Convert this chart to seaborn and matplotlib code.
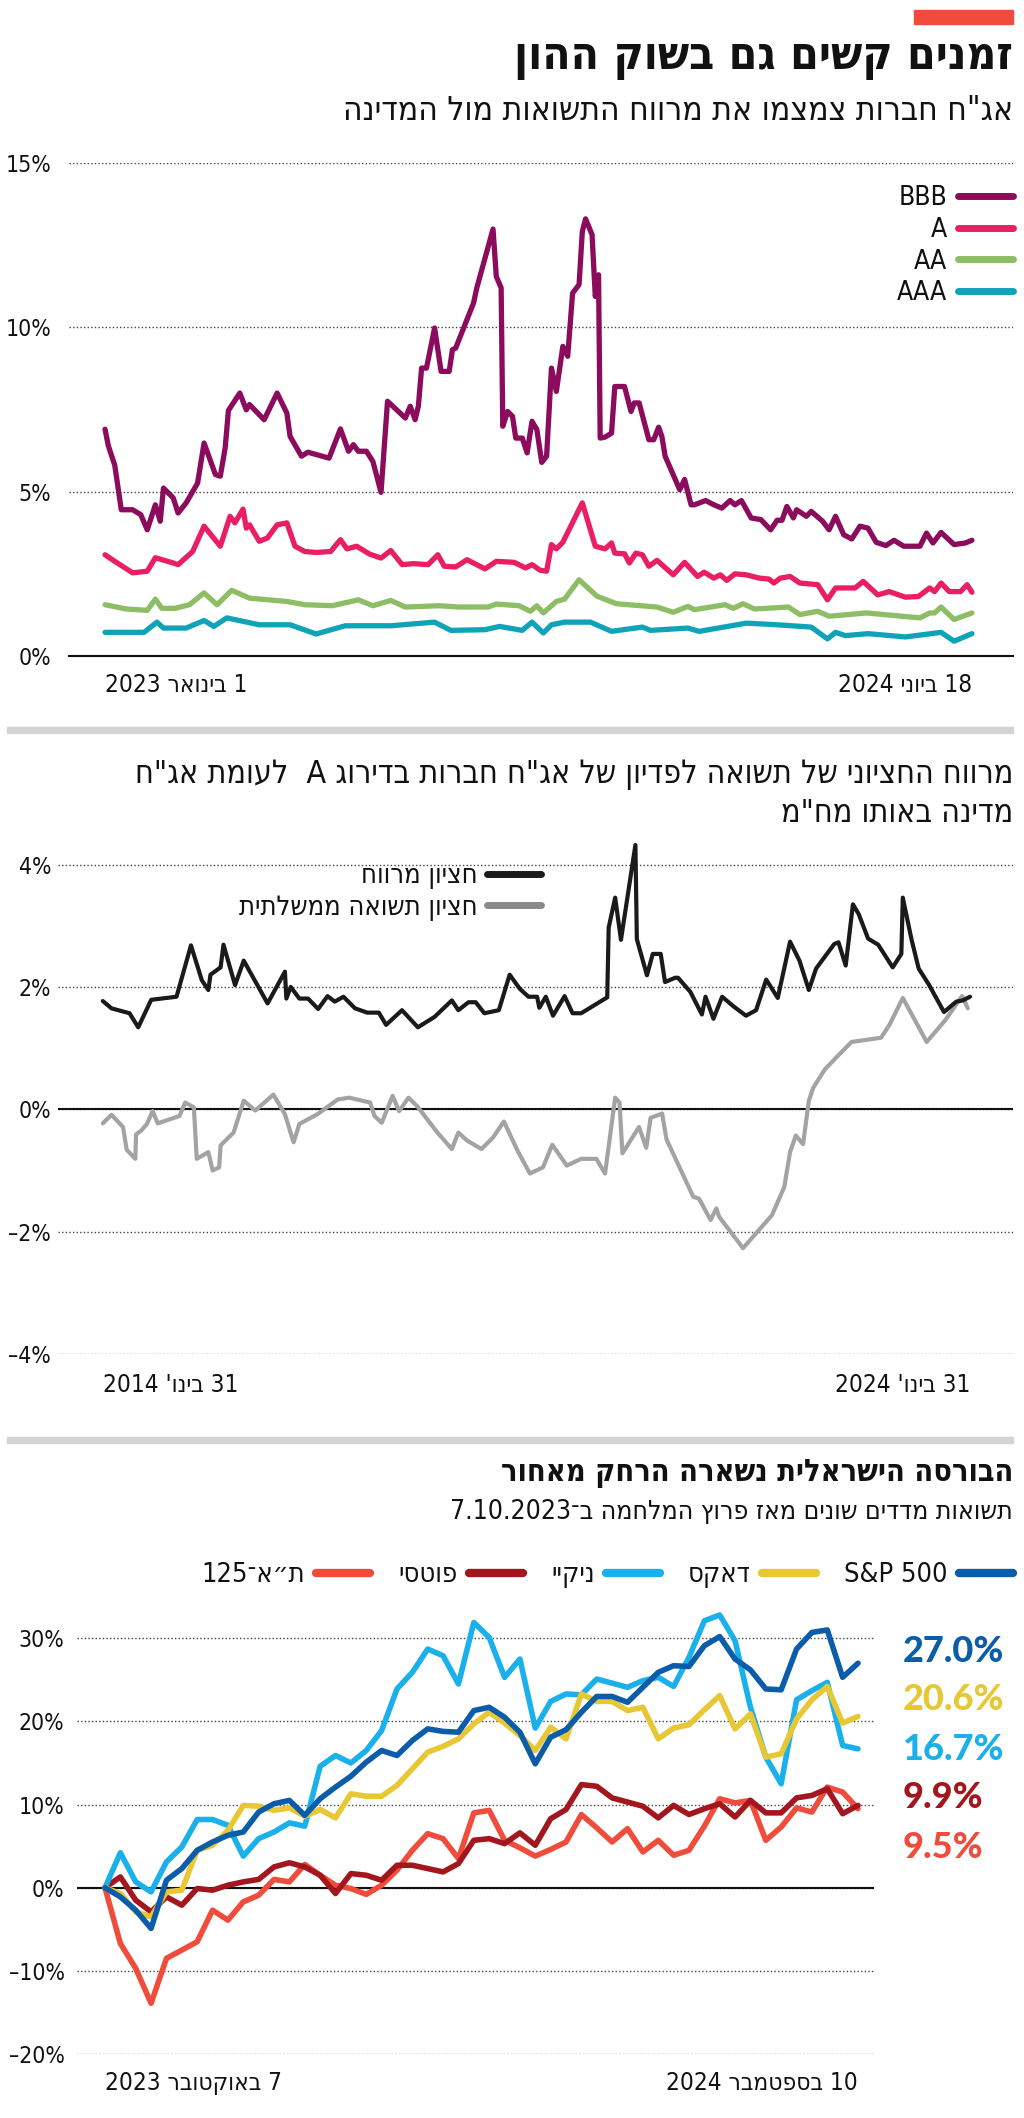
import re
import matplotlib
matplotlib.use("Agg")
import matplotlib.pyplot as plt
from matplotlib.lines import Line2D
from matplotlib.patches import Rectangle
import seaborn as sns

# ---------- data: corporate bond yields by rating (days from 1 Jan 2023) ----------
bbb_day = [0, 2, 6, 10, 17, 22, 26, 31, 34, 36, 42, 45, 50, 57, 61, 68, 71, 74, 76, 83, 87, 89, 98, 106, 112,
           114, 121, 125, 138, 145, 150, 153, 156, 161, 165, 170, 174, 185, 188, 191, 193, 195, 198, 203, 207,
           212, 214, 216, 227, 229, 239, 241, 244, 245, 248, 251, 253, 257, 260, 263, 266, 269, 272, 275, 278,
           282, 285, 288, 292, 294, 296, 300, 302, 304, 305, 308, 312, 314, 320, 324, 326, 329, 335, 338, 341,
           343, 345, 354, 357, 361, 363, 370, 375, 380, 385, 388, 392, 398, 404, 410, 414, 417, 420, 424, 426,
           432, 435, 442, 446, 450, 455, 460, 465, 470, 475, 481, 486, 492, 502, 506, 510, 515, 523, 530, 534]
bbb_val = [6.9, 6.4, 5.8, 4.45, 4.45, 4.3, 3.84, 4.6, 4.1, 5.11, 4.81, 4.35, 4.66, 5.26, 6.48, 5.52, 5.47, 6.33,
           7.47, 8.0, 7.49, 7.65, 7.19, 8.0, 7.39, 6.68, 6.08, 6.2, 6.02, 6.91, 6.23, 6.43, 6.23, 6.23, 5.92, 4.98,
           7.75, 7.24, 7.6, 7.19, 7.6, 8.76, 8.76, 9.98, 8.66, 8.66, 9.32, 9.37, 10.74, 11.2, 12.99, 11.55, 11.2,
           6.99, 7.44, 7.29, 6.63, 6.63, 6.18, 7.14, 6.89, 5.89, 6.08, 8.76, 8.05, 9.42, 9.12, 11.04, 11.3, 12.92,
           13.3, 12.82, 10.94, 11.6, 6.63, 6.66, 6.78, 8.2, 8.2, 7.44, 7.7, 7.7, 6.58, 6.58, 6.96, 6.68, 6.08,
           5.06, 5.37, 4.6, 4.6, 4.73, 4.6, 4.5, 4.73, 4.6, 4.73, 4.2, 4.15, 3.84, 4.13, 4.13, 4.55, 4.2, 4.45,
           4.25, 4.4, 4.1, 3.84, 4.25, 3.69, 3.56, 3.95, 3.89, 3.46, 3.36, 3.52, 3.34, 3.34, 3.74, 3.44, 3.76,
           3.39, 3.44, 3.52]
a_day = [0, 6, 17, 26, 31, 42, 45, 54, 61, 71, 77, 80, 85, 87, 89, 95, 100, 106, 112, 117, 123, 130, 139, 145,
         149, 155, 163, 170, 176, 183, 190, 199, 205, 209, 216, 223, 234, 241, 252, 259, 263, 268, 272, 275, 278,
         282, 294, 302, 308, 312, 314, 320, 323, 327, 331, 335, 340, 350, 357, 365, 369, 375, 379, 383, 388, 395,
         403, 409, 412, 416, 422, 428, 439, 445, 450, 462, 467, 476, 483, 493, 501, 508, 511, 515, 520, 527, 531,
         534]
a_val = [3.08, 2.88, 2.53, 2.58, 2.99, 2.83, 2.78, 3.18, 3.95, 3.34, 4.25, 4.05, 4.47, 3.89, 3.99, 3.49, 3.59,
         3.99, 4.05, 3.34, 3.18, 3.15, 3.18, 3.54, 3.26, 3.34, 3.1, 2.98, 3.21, 2.78, 2.81, 2.78, 3.08, 2.73, 2.71,
         2.93, 2.65, 2.88, 2.85, 2.68, 2.78, 2.61, 2.58, 3.39, 3.26, 3.46, 4.66, 3.34, 3.26, 3.44, 3.13, 3.11, 2.83,
         3.13, 3.08, 2.73, 2.91, 2.47, 2.85, 2.42, 2.55, 2.37, 2.47, 2.3, 2.5, 2.47, 2.37, 2.34, 2.22, 2.37, 2.42,
         2.22, 2.17, 1.71, 2.07, 2.07, 2.27, 1.86, 1.96, 1.79, 1.81, 2.07, 1.96, 2.22, 1.96, 1.96, 2.17, 1.94]
aa_day = [0, 13, 26, 31, 35, 43, 52, 61, 69, 78, 89, 112, 123, 140, 156, 165, 176, 185, 206, 218, 236, 241, 255,
          262, 266, 270, 278, 283, 292, 303, 315, 340, 350, 359, 363, 382, 387, 393, 400, 421, 428, 439, 446, 469,
          502, 508, 511, 515, 523, 534]
aa_val = [1.56, 1.43, 1.39, 1.73, 1.45, 1.45, 1.56, 1.92, 1.56, 2.0, 1.76, 1.66, 1.56, 1.53, 1.71, 1.53, 1.69,
          1.49, 1.53, 1.49, 1.49, 1.58, 1.53, 1.36, 1.53, 1.31, 1.66, 1.73, 2.32, 1.82, 1.59, 1.49, 1.33, 1.51,
          1.41, 1.56, 1.45, 1.59, 1.43, 1.49, 1.26, 1.36, 1.21, 1.31, 1.16, 1.31, 1.31, 1.49, 1.11, 1.31]
aaa_day = [0, 24, 32, 36, 50, 61, 67, 75, 95, 114, 130, 148, 176, 203, 213, 234, 243, 257, 263, 270, 275, 283,
           299, 312, 331, 336, 359, 366, 395, 414, 435, 445, 450, 456, 470, 493, 515, 523, 534]
aaa_val = [0.72, 0.72, 1.03, 0.85, 0.85, 1.08, 0.9, 1.16, 0.95, 0.95, 0.67, 0.92, 0.92, 1.03, 0.78, 0.8, 0.9,
           0.78, 1.03, 0.7, 0.95, 1.03, 1.03, 0.75, 0.88, 0.78, 0.85, 0.75, 1.0, 0.95, 0.88, 0.52, 0.72, 0.62,
           0.68, 0.58, 0.72, 0.45, 0.68]
rating_names = ["BBB", "A", "AA", "AAA"]
rating_colors = ["#8b0b5d", "#e91e63", "#8dbd65", "#0fa3b7"]

# ---------- data: median spread vs government yield (months from Jan 2014) ----------
spread_month = [0, 1.2, 3.7, 4.9, 6.7, 10.2, 12.2, 13.7, 14.6, 14.9, 16.3, 16.7, 18.3, 19.5, 22.8, 25.2, 25.4,
                26.0, 27.2, 28.4, 29.8, 31.1, 32.1, 33.3, 34.9, 36.6, 38.2, 39.2, 41.4, 43.6, 45.9, 48.3, 49.2,
                50.6, 51.6, 52.8, 54.8, 56.3, 57.7, 58.9, 60.1, 60.4, 61.3, 62.3, 63.9, 65.0, 66.2, 69.8, 70.0,
                70.9, 71.7, 73.7, 73.9, 75.3, 76.1, 77.2, 77.8, 79.2, 79.6, 81.3, 82.9, 83.4, 84.5, 85.7, 87.3,
                89.0, 90.4, 91.8, 93.4, 95.1, 96.4, 97.7, 98.7, 101.2, 101.8, 102.8, 103.8, 104.6, 105.9, 107.3,
                109.3, 110.5, 110.7, 111.9, 112.9, 114.3, 116.4, 118.1, 119.0, 120.0]
spread_val = [1.77, 1.65, 1.57, 1.34, 1.79, 1.84, 2.68, 2.11, 1.95, 2.2, 2.32, 2.69, 2.03, 2.43, 1.73, 2.25, 1.81,
              2.0, 1.81, 1.81, 1.64, 1.85, 1.76, 1.84, 1.65, 1.58, 1.58, 1.38, 1.62, 1.34, 1.51, 1.78, 1.62, 1.75,
              1.75, 1.57, 1.62, 2.2, 1.97, 1.84, 1.84, 1.66, 1.84, 1.53, 1.85, 1.57, 1.57, 1.83, 2.97, 3.46, 2.77,
              4.32, 2.78, 2.19, 2.54, 2.54, 2.08, 2.15, 2.15, 1.92, 1.55, 1.84, 1.48, 1.84, 1.68, 1.53, 1.62, 2.12,
              1.82, 2.74, 2.43, 1.95, 2.3, 2.7, 2.73, 2.35, 3.35, 3.19, 2.79, 2.69, 2.32, 2.54, 3.46, 2.78, 2.3,
              2.04, 1.59, 1.76, 1.78, 1.84]
gov_month = [0, 1.2, 2.8, 3.3, 4.5, 4.6, 5.3, 6.1, 6.9, 7.6, 10.6, 11.4, 12.6, 13.0, 14.6, 15.2, 16.1, 16.3, 18.1,
             19.5, 21.1, 23.6, 25.2, 26.4, 27.2, 29.7, 32.5, 34.1, 37.0, 37.6, 38.6, 40.1, 41.0, 42.3, 43.5, 46.3,
             48.3, 49.2, 50.4, 52.4, 54.0, 55.5, 57.4, 59.1, 60.9, 62.2, 64.2, 66.2, 68.3, 69.5, 70.9, 71.5, 71.9,
             74.2, 75.2, 75.8, 77.4, 78.0, 81.7, 82.5, 84.1, 84.9, 85.3, 88.6, 92.6, 94.3, 95.1, 95.9, 96.9, 97.7,
             98.3, 99.9, 101.6, 103.6, 107.7, 108.9, 110.7, 112.5, 114.0, 116.6, 118.9, 119.7]
gov_val = [-0.23, -0.09, -0.29, -0.66, -0.81, -0.41, -0.35, -0.24, -0.03, -0.23, -0.11, 0.11, 0.03, -0.81, -0.7,
           -1.0, -0.95, -0.59, -0.38, 0.14, -0.02, 0.24, -0.08, -0.54, -0.24, -0.08, 0.16, 0.19, 0.11, -0.11, -0.22,
           0.22, -0.03, 0.19, 0.05, -0.38, -0.65, -0.38, -0.51, -0.65, -0.46, -0.2, -0.68, -1.05, -0.95, -0.58,
           -0.92, -0.81, -0.81, -1.05, 0.19, 0.11, -0.72, -0.29, -0.63, -0.14, -0.07, -0.49, -1.43, -1.46, -1.81,
           -1.62, -1.76, -2.27, -1.73, -1.27, -0.7, -0.43, -0.57, 0.14, 0.35, 0.65, 0.86, 1.1, 1.17, 1.39, 1.82,
           1.43, 1.1, 1.46, 1.85, 1.65]

# ---------- data: index returns since 7.10.2023 (weekly) ----------
sp500 = [0, -1.1, -2.7, -4.9, 0.9, 2.3, 4.5, 5.5, 6.3, 6.7, 9.1, 10.1, 10.5, 8.7, 10.7, 12.1, 13.4, 15.1, 16.5,
         15.9, 17.7, 19.1, 18.8, 18.7, 21.3, 21.7, 20.5, 18.7, 14.9, 18.1, 19.0, 21.1, 23.0, 23.0, 22.3, 24.1, 25.9,
         26.7, 26.6, 29.1, 30.2, 27.5, 26.2, 23.9, 23.8, 28.7, 30.7, 31.0, 25.3, 27.0]
dax = [0, -0.7, -2.9, -3.5, -0.5, -0.3, 4.5, 5.1, 6.9, 9.9, 9.8, 9.3, 9.6, 8.6, 9.4, 8.4, 11.3, 11.0, 11.0, 12.3,
       14.3, 16.3, 17.0, 17.9, 19.7, 21.1, 19.8, 18.3, 16.5, 19.3, 17.9, 23.3, 22.4, 22.4, 21.3, 21.7, 17.9, 19.2,
       19.6, 21.4, 23.1, 19.1, 20.9, 15.7, 16.1, 20.3, 22.6, 24.2, 19.8, 20.6]
nikkei = [0, 4.2, 0.7, -0.5, 3.1, 4.9, 8.2, 8.2, 7.5, 3.8, 5.9, 6.7, 7.8, 7.4, 14.6, 15.9, 15.0, 16.5, 18.9, 23.9,
          25.9, 28.7, 27.9, 24.5, 31.9, 30.1, 25.3, 27.5, 19.2, 22.4, 23.3, 23.2, 25.1, 24.6, 24.1, 24.9, 25.3, 24.2,
          27.7, 32.1, 32.8, 29.7, 21.7, 15.7, 12.5, 22.6, 23.7, 24.7, 17.1, 16.7]
ftse = [0, 1.3, -1.5, -2.9, -1.1, -2.1, -0.1, -0.3, 0.3, 0.7, 1.0, 2.5, 3.0, 2.5, 1.5, -0.7, 1.7, 1.5, 0.9, 2.7,
        2.7, 2.3, 1.9, 2.9, 5.7, 5.9, 5.3, 6.6, 5.1, 8.3, 9.4, 12.4, 12.2, 10.8, 10.3, 9.8, 8.4, 9.9, 8.8, 9.5, 10.1,
        8.5, 10.5, 9.0, 9.0, 10.8, 11.1, 11.9, 8.9, 9.9]
ta125 = [0, -6.7, -9.7, -13.9, -8.5, -7.5, -6.5, -2.7, -3.9, -1.7, -0.9, 1.0, 0.7, 2.8, 1.5, 0.3, -0.1, -0.8, 0.3,
         2.1, 4.5, 6.5, 5.9, 3.5, 9.0, 9.3, 5.7, 4.8, 3.8, 4.6, 5.5, 8.8, 7.2, 5.5, 7.1, 4.3, 5.7, 3.9, 4.5, 7.4,
         10.7, 10.2, 10.5, 5.7, 7.3, 9.6, 9.1, 12.1, 11.5, 9.5]
index_names = ["S&P 500", "דאקס", "ניקיי", "פוטסי", "ת״א־125"]
index_colors = ["#0b5ca9", "#e8c735", "#1ab0eb", "#a3161d", "#f04c3c"]


def heb(s):
    # matplotlib has no bidi: flip Hebrew strings to visual order, keep number/latin runs
    if not re.search("[\u0590-\u05ff]", s):
        return s
    r = s[::-1]
    return re.sub(r"[A-Za-z0-9%&][A-Za-z0-9%&.,]*", lambda m: m.group(0)[::-1], r)


def fx(p):
    return p / 1024


def fy(p):
    return 1 - p / 2118


sns.set_style("white")
plt.rcParams["font.family"] = ["DejaVu Sans"]
plt.rcParams["font.stretch"] = "condensed"
plt.rcParams["text.color"] = "#111111"
plt.rcParams["xtick.color"] = "#111111"
plt.rcParams["ytick.color"] = "#111111"

GRID = dict(ls=(0, (1, 1.6)), color="#444444", lw=1.0)

fig = plt.figure(figsize=(10.24, 21.18), dpi=100)

# header
fig.add_artist(Rectangle((fx(914), fy(24)), fx(1013) - fx(914), 14 / 2118, color="#f04b3c",
                         transform=fig.transFigure))
fig.text(fx(1013), fy(58), heb("זמנים קשים גם בשוק ההון"), ha="right", va="center", fontsize=33, weight="bold")
fig.text(fx(1013), fy(110), heb('אג"ח חברות צמצמו את מרווח התשואות מול המדינה'), ha="right", va="center",
         fontsize=24)

# ---------- panel 1 ----------
ax1 = fig.add_axes([fx(69), fy(656), fx(1013) - fx(69), (656 - 163) / 2118])
series1 = [(bbb_day, bbb_val), (a_day, a_val), (aa_day, aa_val), (aaa_day, aaa_val)]
for (d, v), col in zip(series1[::-1], rating_colors[::-1]):
    sns.lineplot(x=d, y=v, ax=ax1, color=col, linewidth=3.8, sort=False, estimator=None)
ax1.set_xlim(-22.2, 559.3)
ax1.set_ylim(0, 15)
ax1.set_yticks([0, 5, 10, 15])
ax1.set_yticklabels(["0%", "5%", "10%", "15%"])
ax1.set_xticks([0, 534])
ax1.set_xticklabels([heb("1 בינואר 2023"), heb("18 ביוני 2024")])
ax1.grid(axis="y", **GRID)
ax1.grid(axis="x", visible=False)
for s in ["left", "right", "top"]:
    ax1.spines[s].set_visible(False)
ax1.spines["bottom"].set_color("#111111")
ax1.spines["bottom"].set_linewidth(1.5)
ax1.tick_params(axis="x", direction="inout", length=13, width=1.3, pad=6, labelsize=17.5)
ax1.tick_params(axis="y", length=0, pad=13, labelsize=16.5)
ax1.set_xlabel("")
ax1.set_ylabel("")
h1 = [Line2D([], [], color=c, lw=5) for c in rating_colors]
ax1.legend(h1, rating_names, loc="upper right", bbox_to_anchor=(fx(1013), fy(185)),
           bbox_transform=fig.transFigure, frameon=False, markerfirst=False, fontsize=19,
           handlelength=2.1, handletextpad=0.4, labelspacing=0.22, borderpad=0, borderaxespad=0)

fig.add_artist(Rectangle((fx(7), fy(733)), fx(1013) - fx(7), 6 / 2118, color="#d4d4d4",
                         transform=fig.transFigure))

# ---------- panel 2 ----------
fig.text(fx(1013), fy(775), heb('מרווח החציוני של תשואה לפדיון של אג"ח חברות בדירוג A  לעומת אג"ח'),
         ha="right", va="center", fontsize=23)
fig.text(fx(1013), fy(813), heb('מדינה באותו מח"מ'), ha="right", va="center", fontsize=23)

ax2 = fig.add_axes([fx(58), fy(1354), fx(1013) - fx(58), (1354 - 834) / 2118])
sns.lineplot(x=gov_month, y=gov_val, ax=ax2, color="#a3a3a3", linewidth=3.0, sort=False, estimator=None)
sns.lineplot(x=spread_month, y=spread_val, ax=ax2, color="#1a1a1a", linewidth=3.0, sort=False, estimator=None)
ax2.axhline(0, color="#111111", lw=1.5, zorder=1.5)
ax2.set_xlim(-6.2, 125.95)
ax2.set_ylim(-4, 4.5)
ax2.set_yticks([-4, -2, 0, 2, 4])
ax2.set_yticklabels(["–4%", "–2%", "0%", "2%", "4%"])
ax2.set_xticks([0, 120])
ax2.set_xticklabels([heb("31 בינו' 2014"), heb("31 בינו' 2024")])
ax2.grid(axis="y", **GRID)
ax2.grid(axis="x", visible=False)
for s in ax2.spines.values():
    s.set_visible(False)
ax2.tick_params(axis="x", direction="inout", length=15, width=1.3, pad=6, labelsize=17.5)
ax2.tick_params(axis="y", length=0, pad=5, labelsize=16.5)
ax2.set_xlabel("")
ax2.set_ylabel("")
h2 = [Line2D([], [], color="#1a1a1a", lw=5), Line2D([], [], color="#8a8a8a", lw=5)]
ax2.legend(h2, [heb("חציון מרווח"), heb("חציון תשואה ממשלתית")], loc="upper right",
           bbox_to_anchor=(fx(541), fy(863)), bbox_transform=fig.transFigure, frameon=False,
           markerfirst=False, fontsize=19.5, handlelength=2.0, handletextpad=0.35, labelspacing=0.22,
           borderpad=0, borderaxespad=0)

fig.add_artist(Rectangle((fx(7), fy(1443)), fx(1013) - fx(7), 6 / 2118, color="#d4d4d4",
                         transform=fig.transFigure))

# ---------- panel 3 ----------
fig.text(fx(1013), fy(1474), heb("הבורסה הישראלית נשארה הרחק מאחור"), ha="right", va="center",
         fontsize=22, weight="bold")
fig.text(fx(1013), fy(1512), heb("תשואות מדדים שונים מאז פרוץ המלחמה ב־7.10.2023"), ha="right",
         va="center", fontsize=19)

ax3 = fig.add_axes([fx(77), fy(2054), fx(874) - fx(77), (2054 - 1605) / 2118])
week = list(range(len(sp500)))
series3 = [sp500, dax, nikkei, ftse, ta125]
for vals, col in zip(series3[::-1], index_colors[::-1]):
    sns.lineplot(x=week, y=vals, ax=ax3, color=col, linewidth=4.0, sort=False, estimator=None)
ax3.axhline(0, color="#111111", lw=1.5, zorder=1.5)
ax3.set_xlim(-1.82, 50.04)
ax3.set_ylim(-20, 34)
ax3.set_yticks([-20, -10, 0, 10, 20, 30])
ax3.set_yticklabels(["–20%", "–10%", "0%", "10%", "20%", "30%"])
ax3.set_xticks([week[0], week[-1]])
ax3.set_xticklabels([heb("7 באוקטובר 2023"), heb("10 בספטמבר 2024")])
ax3.grid(axis="y", **GRID)
ax3.grid(axis="x", visible=False)
for s in ax3.spines.values():
    s.set_visible(False)
ax3.tick_params(axis="x", direction="inout", length=13, width=1.3, pad=6, labelsize=17.5)
ax3.tick_params(axis="y", length=0, pad=9, labelsize=16.5)
ax3.set_xlabel("")
ax3.set_ylabel("")

h3 = [Line2D([], [], color=c, lw=6) for c in index_colors]
fig.legend(h3[::-1], [heb(n) for n in index_names][::-1], ncol=5, loc="center right",
           bbox_to_anchor=(fx(1013), fy(1575)), frameon=False, markerfirst=False, fontsize=19.5,
           handlelength=2.0, handletextpad=0.4, columnspacing=1.05, borderpad=0, borderaxespad=0)

# final values next to the plot
for i, (vals, col) in enumerate(zip(series3, index_colors)):
    fig.text(fx(903), fy(1651 + 49 * i), f"{vals[-1]:.1f}%", color=col, ha="left", va="center",
             fontsize=26, weight="black", family=["Lato", "DejaVu Sans"], fontstretch="normal")

for ax in (ax1, ax2, ax3):
    labs = ax.get_xticklabels()
    labs[0].set_ha("left")
    labs[-1].set_ha("right")

fig.savefig("out.png", dpi=100)
